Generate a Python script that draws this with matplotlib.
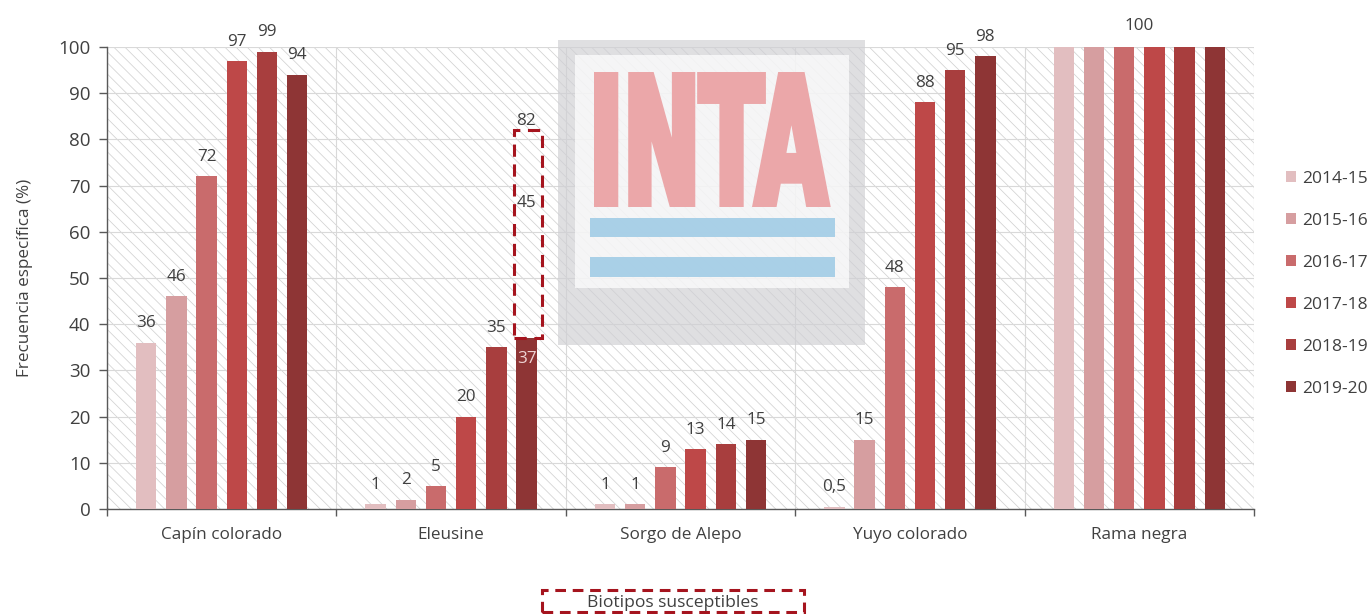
import numpy as np
import matplotlib
matplotlib.use('Agg')
import matplotlib.pyplot as plt
from matplotlib.patches import Rectangle
from matplotlib.patheffects import AbstractPathEffect
from matplotlib.transforms import Affine2D
from matplotlib.textpath import TextPath
from matplotlib.font_manager import FontProperties

# ---------------- data ----------------
categories = ['Capín colorado', 'Eleusine', 'Sorgo de Alepo', 'Yuyo colorado', 'Rama negra']
seasons = ['2014-15', '2015-16', '2016-17', '2017-18', '2018-19', '2019-20']
v_2014_15 = [36, 1, 1, 0.5, 100]
v_2015_16 = [46, 2, 1, 15, 100]
v_2016_17 = [72, 5, 9, 48, 100]
v_2017_18 = [97, 20, 13, 88, 100]
v_2018_19 = [99, 35, 14, 95, 100]
v_2019_20 = [94, 37, 15, 98, 100]
season_values = [v_2014_15, v_2015_16, v_2016_17, v_2017_18, v_2018_19, v_2019_20]
season_colors = ['#E2BEC0', '#D69EA0', '#C96B6C', '#BE4848', '#A83E3E', '#8E3535']
eleusine_susceptible = 45          # stacked on 2019-20 Eleusine bar
susceptible_label = 'Biotipos susceptibles'
ylabel = 'Frecuencia específica (%)'
yticks = list(range(0, 101, 10))

plt.rcParams['font.family'] = ['Open Sans', 'DejaVu Sans']
plt.rcParams['hatch.linewidth'] = 0.55

W, H = 1372, 614
fig = plt.figure(figsize=(W / 100, H / 100), dpi=100)
fig.patch.set_facecolor('white')
ax = fig.add_axes([107 / W, 1 - 509 / H, (1254 - 107) / W, (509 - 47) / H])

TXT = '#404040'
AXC = '#595959'
GRID = '#D9D9D9'
RED = '#A5141E'
DATA_FS = 12.3

# hatched plot background
ax.add_patch(Rectangle((0, 0), 1, 1, transform=ax.transAxes, facecolor='white',
                       edgecolor='#D2D2D2', hatch='\\\\\\', lw=0, zorder=0.2))


def fmt(v):
    return str(int(v)) if float(v).is_integer() else str(v).replace('.', ',')


n = len(seasons)
step = 0.1317
width = 0.089
x = np.arange(len(categories))
containers = []
for j, (vals, col, lab) in enumerate(zip(season_values, season_colors, seasons)):
    xs = x + (j - (n - 1) / 2) * step
    bc = ax.bar(xs, vals, width, color=col, label=lab, zorder=3)
    containers.append(bc)
    for xi, v, cat in zip(xs, vals, categories):
        if cat == 'Rama negra':
            continue
        if cat == 'Eleusine' and j == n - 1:
            ax.annotate(fmt(v), (xi, v), xytext=(0, -18), textcoords='offset points',
                        ha='center', va='baseline', fontsize=DATA_FS, color='#EED3D3', zorder=5)
        else:
            ax.annotate(fmt(v), (xi, v), xytext=(0, 11), textcoords='offset points',
                        ha='center', va='baseline', fontsize=DATA_FS, color=TXT, zorder=5)

# single label for Rama negra
ri = categories.index('Rama negra')
rmax = max(v[ri] for v in season_values)
ax.annotate(fmt(rmax), (x[ri], rmax), xytext=(0, 12), textcoords='offset points',
            ha='center', va='baseline', fontsize=DATA_FS, color=TXT, zorder=5)

# susceptible biotypes (dashed segment on Eleusine 2019-20)
ei = categories.index('Eleusine')
base = v_2019_20[ei]
xe = x[ei] + (n - 1) / 2 * step + 0.006
ax.bar(xe, eleusine_susceptible, 0.122, bottom=base, fill=False, edgecolor=RED,
       linestyle=(0, (4, 2.5)), lw=2.2, zorder=4)
ax.annotate(fmt(base + eleusine_susceptible), (xe - 0.01, base + eleusine_susceptible),
            xytext=(0, 4), textcoords='offset points', ha='center', va='baseline',
            fontsize=DATA_FS, color=TXT, zorder=5)
ax.text(xe - 0.008, base + eleusine_susceptible * 0.65, fmt(eleusine_susceptible),
        ha='center', va='center', fontsize=DATA_FS, color=TXT, zorder=5)

# axes styling
ax.set_xlim(-0.5, len(categories) - 0.5)
ax.set_ylim(0, 100)
ax.set_yticks(yticks)
ax.set_xticks(x)
ax.set_xticklabels(categories, fontsize=12.3, color=TXT)
ax.set_xticks(np.arange(-0.5, len(categories), 1.0), minor=True)
ax.tick_params(axis='y', labelsize=13.5, labelcolor=TXT, color=AXC, length=6, width=1, pad=6)
ax.tick_params(axis='x', which='major', length=0, pad=13)
ax.tick_params(axis='x', which='minor', length=5, width=1, color=AXC, direction='out')
for s in ['top', 'right']:
    ax.spines[s].set_visible(False)
for s in ['left', 'bottom']:
    ax.spines[s].set_color(AXC)
    ax.spines[s].set_linewidth(1)
ax.set_axisbelow(True)
ax.grid(axis='y', which='major', color=GRID, lw=0.8)
ax.grid(axis='x', which='minor', color=GRID, lw=0.8)
ax.set_ylabel(ylabel, fontsize=12.3, color=TXT)
ax.yaxis.set_label_coords(-(107 - 33) / (1254 - 107), 0.5)

# legend
ax.legend(handles=containers, labels=seasons, loc='center left',
          bbox_to_anchor=(1286 / W, 1 - 284 / H), bbox_transform=fig.transFigure,
          frameon=False, fontsize=12.5, handlelength=0.6, handleheight=0.6,
          handletextpad=0.35, labelspacing=1.5, borderpad=0, borderaxespad=0,
          labelcolor=TXT)


# ---------------- INTA watermark logo ----------------
def fig_rect(x0, y0, x1, y1, **kw):
    return Rectangle((x0 / W, 1 - y1 / H), (x1 - x0) / W, (y1 - y0) / H,
                     transform=fig.transFigure, clip_on=False, **kw)


ax.add_patch(fig_rect(558, 40, 865, 345, facecolor='#D0D0D4', alpha=0.68, lw=0, zorder=1))
ax.add_patch(fig_rect(575, 55, 849, 288, facecolor='white', alpha=0.7, lw=0, zorder=1.1))
ax.add_patch(fig_rect(590, 218, 835, 237, facecolor='#A5CEE7', alpha=0.95, lw=0, zorder=1.2))
ax.add_patch(fig_rect(590, 257, 835, 277, facecolor='#A5CEE7', alpha=0.95, lw=0, zorder=1.2))


class StretchBold(AbstractPathEffect):
    """Stretch text glyphs about their origin and thicken them with a stroke."""

    def __init__(self, sx, sy, lw):
        super().__init__()
        self._sx, self._sy, self._lw = sx, sy, lw

    def draw_path(self, renderer, gc, tpath, affine, rgbFace=None):
        gc0 = renderer.new_gc()
        gc0.copy_properties(gc)
        gc0.set_linewidth(self._lw)
        gc0.set_foreground(rgbFace)
        gc0.set_joinstyle('miter')
        renderer.draw_path(gc0, tpath, Affine2D().scale(self._sx, self._sy) + affine, rgbFace)
        gc0.restore()


stroke_px = 7
half = stroke_px / 2
fp = FontProperties(family='DejaVu Sans', weight='bold')
ext = TextPath((0, 0), 'INTA', size=1, prop=fp).get_extents()
fs_pt = 60
fs_px = fs_pt * fig.dpi / 72
box_x0, box_x1, box_y0, box_y1 = 594 + half, 830 - half, 72 + half, 207 - half
sx = (box_x1 - box_x0) / (ext.width * fs_px)
sy = (box_y1 - box_y0) / (ext.height * fs_px)
ox = box_x0 - ext.x0 * fs_px * sx
oy = (H - box_y1) - ext.y0 * fs_px * sy
ax.text(ox / W, oy / H, 'INTA', transform=fig.transFigure, family='DejaVu Sans',
        fontweight='bold', fontsize=fs_pt, ha='left', va='baseline', color='#EBA7A9',
        path_effects=[StretchBold(sx, sy, stroke_px * 72 / fig.dpi)], zorder=1.3,
        clip_on=False)

# bottom legend for susceptible biotypes
fig.add_artist(fig_rect(542, 590, 804, 612, fill=False, edgecolor=RED, lw=2.2,
                        linestyle=(0, (3.5, 2.2))))
fig.text(673 / W, 1 - 603 / H, susceptible_label, ha='center', va='center',
         fontsize=12.6, color=TXT)

fig.savefig('out.png', dpi=100, facecolor='white')
